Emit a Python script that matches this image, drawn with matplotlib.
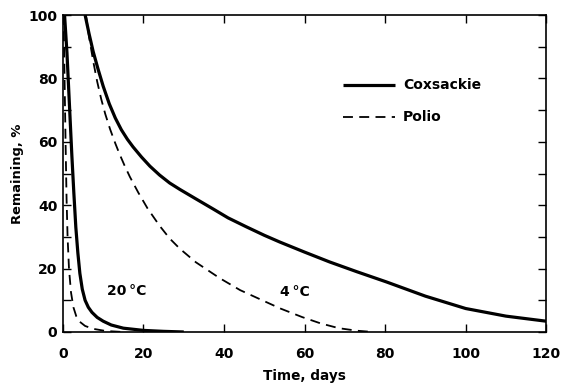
import matplotlib
matplotlib.use("Agg")
import matplotlib.pyplot as plt
from matplotlib.ticker import MultipleLocator

# Coxsackie, 4 °C
cox4_x = [5.5, 6.5, 7.5, 8.7, 10.0, 11.5, 13.0, 14.5, 16.0, 17.4, 19.5, 21.6, 24.0, 26.5, 29.0,
          33.0, 37.3, 41.0, 45.5, 50.0, 53.8, 60.0, 66.2, 73.0, 80.3, 90.0, 100.0, 110.0, 120.0]
cox4_y = [100, 94, 88.5, 83, 77.5, 72, 67.5, 63.8, 60.8, 58.4, 55.2, 52.3, 49.5, 47.0, 45.0,
          42.0, 38.8, 36.0, 33.2, 30.5, 28.4, 25.2, 22.1, 19.0, 15.8, 11.3, 7.4, 5.0, 3.4]
# Polio, 4 °C
pol4_x = [5.7, 6.5, 7.5, 8.5, 9.5, 10.5, 11.7, 13.0, 14.1, 15.3, 16.6, 18.7, 21.0, 24.0, 26.5,
          29.0, 33.0, 38.9, 44.0, 49.5, 54.0, 59.4, 64.0, 68.5, 73.0, 77.0]
pol4_y = [100, 93, 85.5, 79, 73.5, 68.8, 64, 59.5, 56, 52.5, 49, 44, 39, 33.5, 29.5,
          26.3, 22, 17, 13.2, 10, 7.4, 4.7, 2.7, 1.2, 0.4, 0]
# Coxsackie, 20 °C
cox20_x = [0.4, 1.0, 1.6, 2.2, 2.7, 3.2, 3.7, 4.2, 4.8, 5.5, 6.3, 7.2, 8.5, 10.0, 12.0, 15.0,
           20.0, 25.0, 30.0]
cox20_y = [100, 88, 72, 56, 44, 33, 25, 18.5, 13.5, 10, 7.8, 6.2, 4.6, 3.4, 2.2, 1.2,
           0.5, 0.2, 0]
# Polio, 20 °C
pol20_x = [0.15, 0.4, 0.65, 0.9, 1.15, 1.5, 2.0, 2.6, 3.3, 4.2, 5.5, 7.5, 10.7, 15.0]
pol20_y = [100, 80, 60, 42, 30, 20, 12.5, 7.8, 5.0, 3.2, 1.9, 1.0, 0.3, 0]

series_labels = ["Coxsackie", "Polio"]
x_ticks = [0, 20, 40, 60, 80, 100, 120]
y_ticks = [0, 20, 40, 60, 80, 100]

plt.rcParams['font.family'] = ['DejaVu Sans']

fig = plt.figure(figsize=(5.62, 3.85), dpi=100)
ax = fig.add_axes([0.112, 0.1377, 0.860, 0.8233])

solid_kw = dict(color='black', lw=2.3, solid_capstyle='butt', solid_joinstyle='round')
dash_kw = dict(color='black', lw=1.3, dashes=(5.5, 3.5))

l1, = ax.plot(cox4_x, cox4_y, **solid_kw)
ax.plot(cox20_x, cox20_y, **solid_kw)
l2, = ax.plot(pol4_x, pol4_y, **dash_kw)
ax.plot(pol20_x, pol20_y, **dash_kw)

ax.set_xlim(0, 120)
ax.set_ylim(0, 100)
ax.set_xticks(x_ticks)
ax.set_yticks(y_ticks)
ax.yaxis.set_minor_locator(MultipleLocator(10))
ax.tick_params(which='both', direction='in', top=True, right=True, length=5.5, width=1,
               labelsize=10)
ax.tick_params(axis='x', pad=10.5)
ax.tick_params(axis='y', pad=4)
for lab in ax.get_xticklabels() + ax.get_yticklabels():
    lab.set_fontweight('bold')
for s in ax.spines.values():
    s.set_linewidth(1.2)

ax.set_xlabel("Time, days", fontsize=9.8, fontweight='bold', labelpad=6)
ax.set_ylabel("Remaining, %", fontsize=9.4, fontweight='bold', labelpad=3)

ax.text(15.8, 13.0, "20\u2009\u00b0C", fontsize=10, fontweight='bold', ha='center', va='center')
ax.text(57.7, 12.5, "4\u2009\u00b0C", fontsize=10, fontweight='bold', ha='center', va='center')

ax.legend([l1, l2], series_labels, loc='upper left', bbox_to_anchor=(0.58, 0.80),
          frameon=False, prop={'weight': 'bold', 'size': 10},
          handlelength=3.7, handletextpad=0.6, labelspacing=1.3, borderpad=0, borderaxespad=0)

fig.savefig("out.png", dpi=100)
